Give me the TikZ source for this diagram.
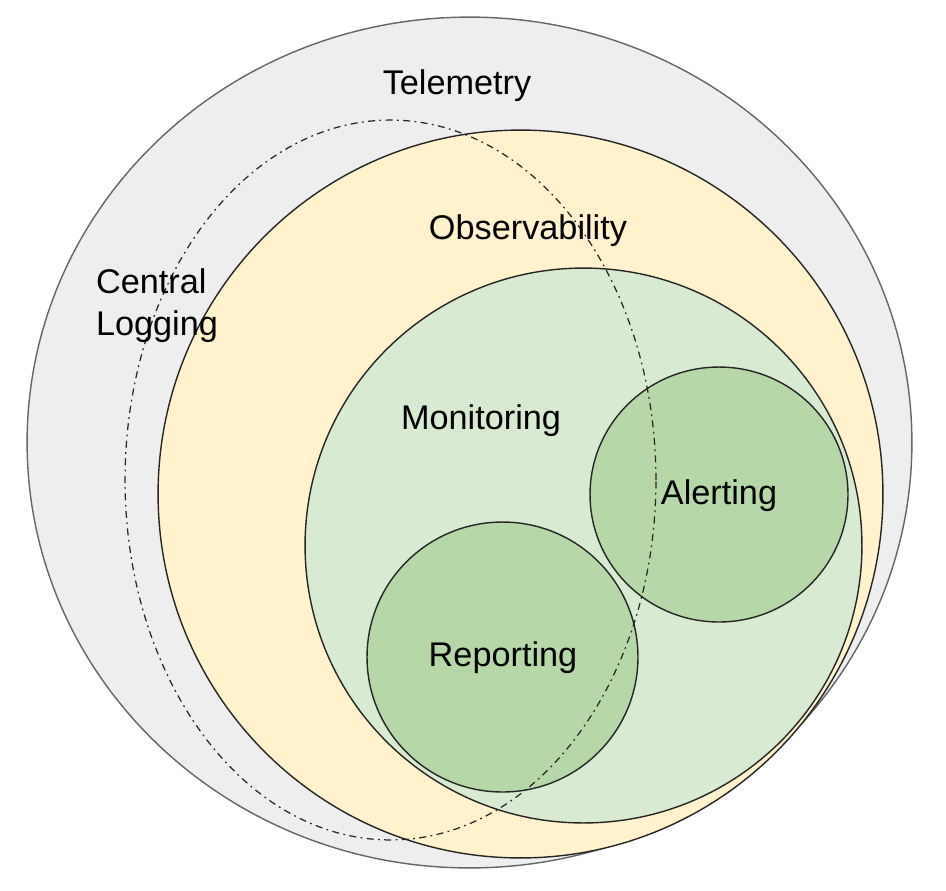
\documentclass[tikz,border=0pt]{standalone}
\usepackage{fontspec}
\setmainfont{Liberation Sans}
\usetikzlibrary{shapes.geometric}
\definecolor{telegray}{HTML}{EEEEEE}
\definecolor{obsyellow}{HTML}{FFF2CC}
\definecolor{monlight}{HTML}{D9EAD3}
\definecolor{mondark}{HTML}{B6D7A8}
\begin{document}
\begin{tikzpicture}[x=0.02cm, y=-0.02cm,
  area/.style={ellipse, draw=black!85, line width=0.8pt, inner sep=0pt},
  areatext/.style={font=\fontsize{19.5}{24}\selectfont, text=black, align=left}]
\useasboundingbox (0,0) rectangle (946,890);
\node[area, draw=black!60, fill=telegray, minimum width=17.7cm, minimum height=17.02cm] (telemetry) at (469.5,442.5) {};
\node[area, fill=obsyellow, minimum width=14.5cm, minimum height=14.56cm] (observability) at (520.5,494) {};
\node[area, fill=monlight, minimum width=11.14cm, minimum height=11.1cm] (monitoring) at (583.5,545.5) {};
\node[area, fill=mondark, minimum width=5.16cm, minimum height=5.1cm] (alerting) at (719,494.5) {};
\node[area, fill=mondark, minimum width=5.42cm, minimum height=5.4cm] (reporting) at (502.5,657) {};
% central logging cuts across the others
\node[area, dash pattern=on 4pt off 2.5pt on 1pt off 2.5pt, line width=0.7pt, minimum width=10.62cm, minimum height=14.4cm] (logging) at (390.5,480) {};
\node[areatext] (telemetrytext) at (457,86) {Telemetry};
\node[areatext] (observabilitytext) at (528,231) {Observability};
\node[areatext] (loggingtext) at (157,306) {Central\\Logging};
\node[areatext] (monitoringtext) at (481,421) {Monitoring};
\node[areatext] (alertingtext) at (719,496) {Alerting};
\node[areatext] (reportingtext) at (503,658) {Reporting};
\end{tikzpicture}
\end{document}
